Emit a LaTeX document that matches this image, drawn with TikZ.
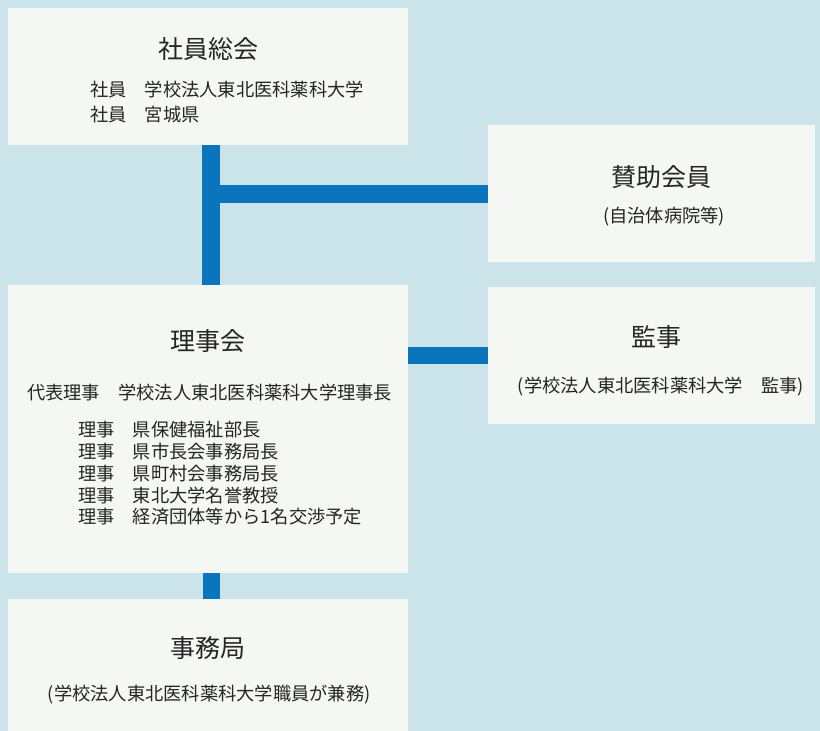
\documentclass[tikz,border=0pt]{standalone}
\usepackage{fontspec}
\newfontfamily\jpfont{Noto Sans CJK JP}
\usetikzlibrary{positioning, calc}

\definecolor{bgblue}{HTML}{CAE4EA}
\definecolor{boxwhite}{HTML}{F4F7F3}
\definecolor{barblue}{HTML}{0A74BC}
\definecolor{inkgray}{HTML}{252525}

\begin{document}
\begin{tikzpicture}[
    x=1pt, y=1pt,
    % Styles
    panel/.style={ % white box
        rectangle,
        fill=boxwhite,
        anchor=north west,
        inner sep=0pt
    },
    title/.style={ % box heading
        font=\jpfont\fontsize{25}{28}\selectfont,
        text=inkgray,
        inner sep=0pt
    },
    body/.style={ % member lines
        font=\jpfont\fontsize{18.25}{25}\selectfont,
        text=inkgray,
        inner sep=0pt,
        align=left
    },
    bodytight/.style={ % director lines
        body,
        font=\jpfont\fontsize{18.25}{21.7}\selectfont
    },
    bar/.style={ % thick blue link
        draw=barblue,
        line width=18pt
    }
]

    % Background
    \fill[bgblue] (0,0) rectangle (820,731);
    \useasboundingbox (0,0) rectangle (820,731);

    % Boxes
    \node[panel, minimum width=400pt, minimum height=137pt] (soukai) at (8,723) {};
    \node[panel, minimum width=327pt, minimum height=137pt] (sanjo) at (488,606) {};
    \node[panel, minimum width=400pt, minimum height=288pt] (rijikai) at (8,446) {};
    \node[panel, minimum width=327pt, minimum height=137pt] (kanji) at (488,444) {};
    \node[panel, minimum width=400pt, minimum height=132pt] (jimu) at (8,132) {};

    % Links
    \coordinate (spine) at ([xshift=2.5pt]soukai.south);
    \draw[bar] (spine) -- (spine |- rijikai.north);
    \draw[bar] (sanjo.west) -- (sanjo.west -| spine);
    \draw[bar, line width=17pt] (kanji.west) -- (kanji.west -| rijikai.east);
    \draw[bar, line width=17pt] ([xshift=3.5pt]rijikai.south) -- ([xshift=3.5pt]rijikai.south |- jimu.north);

    % General meeting
    \node[title] (soukaiT) at ([yshift=-41.5pt]soukai.north) {社員総会};
    \node[body, anchor=west] (soukaiB) at ([shift={(82pt,-94.5pt)}]soukai.north west)
        {社員　学校法人東北医科薬科大学\\社員　宮城県};

    % Supporting members
    \node[title] (sanjoT) at ([shift={(173pt,-52pt)}]sanjo.north west) {賛助会員};
    \node[body] (sanjoB) at ([shift={(176pt,-92pt)}]sanjo.north west) {(自治体病院等)};

    % Board
    \node[title] (rijikaiT) at ([yshift=-56pt]rijikai.north) {理事会};
    \node[body, anchor=west] (daihyo) at ([shift={(19pt,-108pt)}]rijikai.north west)
        {代表理事　学校法人東北医科薬科大学理事長};
    \node[bodytight, anchor=west] (riji) at ([shift={(70pt,-188.5pt)}]rijikai.north west)
        {理事　県保健福祉部長\\理事　県市長会事務局長\\理事　県町村会事務局長\\理事　東北大学名誉教授\\理事　経済団体等から1名交渉予定};

    % Auditor
    \node[title] (kanjiT) at ([shift={(168pt,-50pt)}]kanji.north west) {監事};
    \node[body] (kanjiB) at ([shift={(173pt,-100pt)}]kanji.north west)
        {(学校法人東北医科薬科大学　監事)};

    % Office
    \node[title] (jimuT) at ([yshift=-49pt]jimu.north) {事務局};
    \node[body] (jimuB) at ([shift={(1pt,-96pt)}]jimu.north)
        {(学校法人東北医科薬科大学職員が兼務)};
\end{tikzpicture}
\end{document}
